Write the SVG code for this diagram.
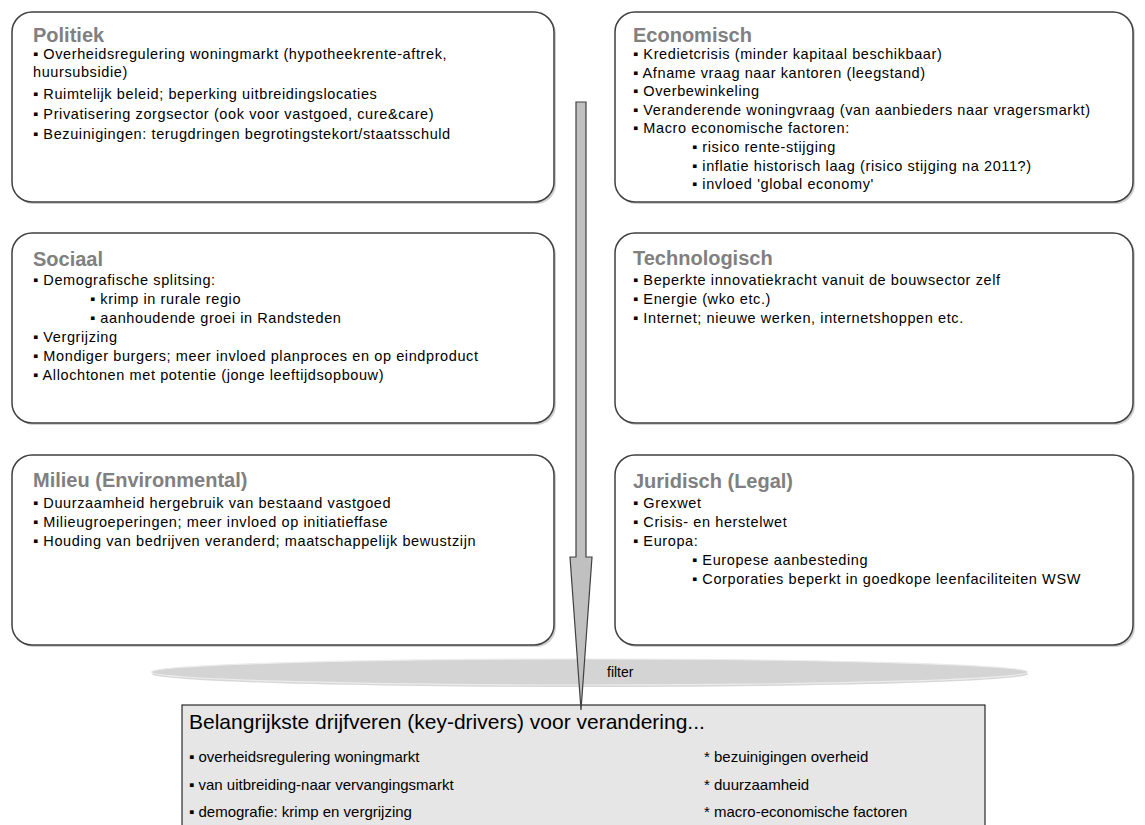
<svg xmlns="http://www.w3.org/2000/svg" width="1145" height="825" viewBox="0 0 1145 825">
  <style>
    .shadow { fill: #cfcfcf; }
    .box { fill: #ffffff; stroke: #404040; stroke-width: 1.5; }
    .hd { font-family: "Liberation Sans", Arial, sans-serif; font-size: 20px; font-weight: bold; fill: #808080; }
    .tx { font-family: "Liberation Sans", Arial, sans-serif; font-size: 14.5px; letter-spacing: 0.6px; fill: #000000; }
    .res { font-family: "Liberation Sans", Arial, sans-serif; fill: #000000; }
  </style>
  <rect width="1145" height="825" fill="#ffffff"/>

  <!-- PEST categories -->
  <g id="politiek">
    <rect class="shadow" x="14" y="14" width="542" height="190" rx="20"/>
    <rect class="box" x="12" y="12" width="542" height="190" rx="20"/>
    <text class="hd" x="33" y="42">Politiek</text>
    <text class="tx" x="33" y="59">▪ Overheidsregulering woningmarkt (hypotheekrente-aftrek,</text>
    <text class="tx" x="33" y="77">huursubsidie)</text>
    <text class="tx" x="33" y="99">▪ Ruimtelijk beleid; beperking uitbreidingslocaties</text>
    <text class="tx" x="33" y="119">▪ Privatisering zorgsector (ook voor vastgoed, cure&amp;care)</text>
    <text class="tx" x="33" y="139">▪ Bezuinigingen: terugdringen begrotingstekort/staatsschuld</text>
  </g>

  <g id="economisch">
    <rect class="shadow" x="617" y="14" width="518" height="190" rx="20"/>
    <rect class="box" x="615" y="12" width="518" height="190" rx="20"/>
    <text class="hd" x="633" y="42">Economisch</text>
    <text class="tx" x="633" y="59">▪ Kredietcrisis (minder kapitaal beschikbaar)</text>
    <text class="tx" x="633" y="77.6">▪ Afname vraag naar kantoren (leegstand)</text>
    <text class="tx" x="633" y="96.2">▪ Overbewinkeling</text>
    <text class="tx" x="633" y="114.8">▪ Veranderende woningvraag (van aanbieders naar vragersmarkt)</text>
    <text class="tx" x="633" y="133.4">▪ Macro economische factoren:</text>
    <text class="tx" x="692" y="152">▪ risico rente-stijging</text>
    <text class="tx" x="692" y="170.6">▪ inflatie historisch laag (risico stijging na 2011?)</text>
    <text class="tx" x="692" y="189.2">▪ invloed 'global economy'</text>
  </g>

  <g id="sociaal">
    <rect class="shadow" x="14" y="235" width="542" height="190" rx="20"/>
    <rect class="box" x="12" y="233" width="542" height="190" rx="20"/>
    <text class="hd" x="33" y="266">Sociaal</text>
    <text class="tx" x="33" y="285">▪ Demografische splitsing:</text>
    <text class="tx" x="90" y="304">▪ krimp in rurale regio</text>
    <text class="tx" x="90" y="323">▪ aanhoudende groei in Randsteden</text>
    <text class="tx" x="33" y="342">▪ Vergrijzing</text>
    <text class="tx" x="33" y="361">▪ Mondiger burgers; meer invloed planproces en op eindproduct</text>
    <text class="tx" x="33" y="380">▪ Allochtonen met potentie (jonge leeftijdsopbouw)</text>
  </g>

  <g id="technologisch">
    <rect class="shadow" x="617" y="235" width="518" height="190" rx="20"/>
    <rect class="box" x="615" y="233" width="518" height="190" rx="20"/>
    <text class="hd" x="633" y="265">Technologisch</text>
    <text class="tx" x="633" y="285">▪ Beperkte innovatiekracht vanuit de bouwsector zelf</text>
    <text class="tx" x="633" y="304">▪ Energie (wko etc.)</text>
    <text class="tx" x="633" y="323">▪ Internet; nieuwe werken, internetshoppen etc.</text>
  </g>

  <g id="milieu">
    <rect class="shadow" x="14" y="457" width="542" height="190" rx="20"/>
    <rect class="box" x="12" y="455" width="542" height="190" rx="20"/>
    <text class="hd" x="33" y="487">Milieu (Environmental)</text>
    <text class="tx" x="33" y="508">▪ Duurzaamheid hergebruik van bestaand vastgoed</text>
    <text class="tx" x="33" y="527">▪ Milieugroeperingen; meer invloed op initiatieffase</text>
    <text class="tx" x="33" y="546">▪ Houding van bedrijven veranderd; maatschappelijk bewustzijn</text>
  </g>

  <g id="juridisch">
    <rect class="shadow" x="617" y="457" width="518" height="190" rx="20"/>
    <rect class="box" x="615" y="455" width="518" height="190" rx="20"/>
    <text class="hd" x="633" y="488">Juridisch (Legal)</text>
    <text class="tx" x="633" y="508">▪ Grexwet</text>
    <text class="tx" x="633" y="527">▪ Crisis- en herstelwet</text>
    <text class="tx" x="633" y="546">▪ Europa:</text>
    <text class="tx" x="692" y="565">▪ Europese aanbesteding</text>
    <text class="tx" x="692" y="584">▪ Corporaties beperkt in goedkope leenfaciliteiten WSW</text>
  </g>

  <!-- filter disc -->
  <g id="filter">
    <ellipse cx="590" cy="674" rx="438" ry="13" fill="#bdbdbd" opacity="0.6"/>
    <ellipse cx="589.5" cy="672" rx="438" ry="13" fill="#d4d4d4" stroke="#ececec" stroke-width="1.2"/>
    <text class="res" x="607" y="677" font-size="14">filter</text>
  </g>

  <!-- result box -->
  <g id="key-drivers">
    <rect x="182" y="705" width="803" height="140" fill="#e6e6e6" stroke="#000000" stroke-width="1"/>
    <text class="res" x="189" y="729" font-size="21">Belangrijkste drijfveren (key-drivers) voor verandering...</text>
    <text class="res" x="189" y="762" font-size="15">▪ overheidsregulering woningmarkt</text>
    <text class="res" x="189" y="790" font-size="15">▪ van uitbreiding-naar vervangingsmarkt</text>
    <text class="res" x="189" y="817" font-size="15">▪ demografie: krimp en vergrijzing</text>
    <text class="res" x="704" y="762" font-size="15">* bezuinigingen overheid</text>
    <text class="res" x="704" y="790" font-size="15">* duurzaamheid</text>
    <text class="res" x="704" y="817" font-size="15">* macro-economische factoren</text>
  </g>

  <!-- downward flow arrow -->
  <g id="connectors">
    <polygon points="576,102 586,102 586,557 592,557 581,710 570,557 576,557" fill="#c0c0c0" stroke="#404040" stroke-width="1.2" stroke-linejoin="miter"/>
  </g>
</svg>
